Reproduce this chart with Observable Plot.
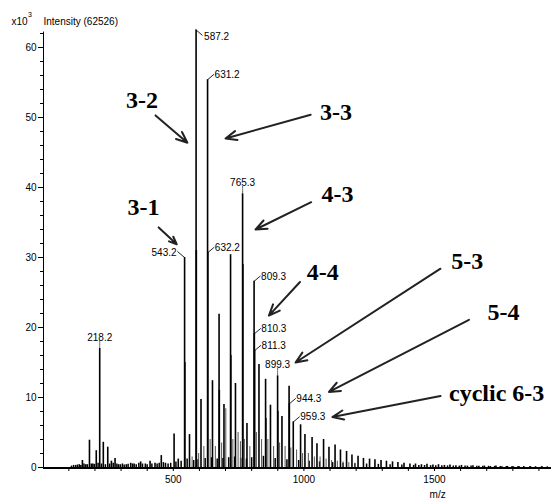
<!DOCTYPE html>
<html>
<head>
<meta charset="utf-8">
<script src="https://cdn.jsdelivr.net/npm/d3@7"></script>
<script src="https://cdn.jsdelivr.net/npm/@observablehq/plot@0.6"></script>
<style>
  html, body { margin: 0; padding: 0; background: white; }
  #chart svg { display: block; }
</style>
</head>
<body>
<div id="chart"></div>
<script>
// ---- Data (m/z, intensity in x10^3 counts) ----
const lowMassMz  = [126, 140, 152, 165, 179, 192, 205, 218.2, 232, 249, 263, 277, 290, 305, 320, 337, 350, 375, 393, 411, 430, 454, 470, 503, 519];
const lowMassInt = [0.3, 0.4, 1.0, 0.4, 3.9, 0.5, 2.4, 17.0, 3.6, 2.9, 0.9, 1.3, 0.4, 0.5, 0.4, 0.6, 0.5, 0.8, 0.5, 0.9, 0.6, 1.7, 0.6, 4.8, 1.2];

const seriesAMz  = [543.2, 587.2, 631.2, 675.2, 719.2, 765.3, 809.3, 853.3, 899.3, 943.3, 987.3, 1031.3, 1075.3, 1119.3, 1163.3, 1207.3, 1251.3, 1295.3, 1339.3, 1383.3, 1427.3, 1471.3, 1515.3, 1559.3, 1603.3, 1647.3, 1691.3, 1735.3, 1779.3, 1823.3, 1867.3, 1911.3];
const seriesAInt = [30.0, 62.5, 55.4, 21.9, 30.4, 39.1, 26.6, 12.6, 13.1, 11.6, 6.1, 4.3, 4.0, 3.2, 2.3, 1.6, 1.2, 1.0, 0.8, 0.6, 0.5, 0.45, 0.4, 0.35, 0.3, 0.25, 0.2, 0.2, 0.15, 0.15, 0.12, 0.1];

const seriesBMz  = [562, 606, 650, 694, 738, 782, 828, 872, 916, 959.3, 1004, 1050, 1096, 1140, 1184, 1228, 1272, 1316, 1360, 1406, 1450, 1494, 1538, 1582, 1626, 1670, 1714, 1758, 1802];
const seriesBInt = [4.7, 9.7, 12.4, 9.0, 12.0, 6.3, 14.7, 8.9, 7.3, 6.5, 4.7, 3.4, 2.9, 2.5, 1.8, 1.3, 1.1, 0.9, 0.7, 0.5, 0.4, 0.35, 0.3, 0.25, 0.2, 0.18, 0.15, 0.12, 0.1];

const isotopeMz  = [544.2, 588.2, 632.2, 676.2, 720.2, 766.3, 810.3, 811.3, 854.3, 900.3, 944.3];
const isotopeInt = [15.0, 31.0, 30.7, 11.0, 16.0, 29.0, 19.1, 16.7, 7.0, 8.0, 9.1];

const minorMz  = [572, 597, 617, 641, 661, 685, 701, 728, 748, 757, 772, 793, 818, 838, 862, 884, 907, 928, 950, 972, 995, 1017, 1040, 1062, 1085, 1106, 1128, 1150, 1172, 1195];
const minorInt = [1.5, 2.0, 3.0, 4.0, 3.0, 3.5, 8.4, 4.0, 5.0, 3.7, 4.0, 3.0, 5.0, 4.0, 4.0, 3.0, 3.5, 3.0, 2.8, 2.5, 2.0, 2.0, 1.5, 1.5, 1.2, 1.0, 0.9, 0.8, 0.7, 0.6];

const noiseMz  = [110, 118, 133, 146, 158, 171, 186, 198, 212, 225, 240, 256, 270, 284, 297, 312, 327, 344, 358, 368, 382, 400, 418, 438, 446, 462, 480, 490, 510, 530, 553, 578, 595, 622, 646, 668, 690, 712, 735, 758, 780, 800, 845, 890, 935, 980, 1020, 1060, 1110, 1150, 1195, 1240, 1285, 1330, 1375, 1420, 1440, 1462, 1485, 1505, 1528, 1550, 1572, 1595, 1617, 1640, 1662, 1685, 1707, 1730, 1752, 1775, 1797, 1820, 1842, 1865, 1887, 1910, 1932];
const noiseInt = [0.2, 0.3, 0.35, 0.3, 0.5, 0.4, 0.5, 0.45, 0.6, 0.5, 0.4, 0.5, 0.6, 0.5, 0.4, 0.35, 0.45, 0.5, 0.4, 0.6, 0.5, 0.4, 0.5, 0.5, 0.6, 0.7, 0.5, 0.6, 0.8, 0.9, 1.2, 1.0, 1.1, 1.3, 1.4, 1.2, 1.3, 1.4, 1.5, 1.3, 1.2, 1.4, 1.6, 1.3, 1.1, 1.0, 0.9, 0.8, 0.7, 0.6, 0.55, 0.5, 0.45, 0.4, 0.35, 0.3, 0.3, 0.28, 0.27, 0.25, 0.25, 0.23, 0.22, 0.2, 0.2, 0.2, 0.18, 0.18, 0.17, 0.16, 0.15, 0.15, 0.14, 0.13, 0.13, 0.12, 0.12, 0.11, 0.1];

// peak labels
const labelAboveMz = [218.2, 765.3, 899.3];
const labelAboveInt = [17.0, 39.1, 13.1];
const labelRightMz = [631.2, 632.2, 809.3, 810.3, 811.3, 944.3, 959.3];
const labelRightInt = [55.4, 30.7, 26.6, 19.1, 16.7, 9.1, 6.5];
const labelDownRightMz = [587.2];
const labelDownRightInt = [62.5];
const labelLeftMz = [543.2];
const labelLeftInt = [30.0];

// annotation labels and arrows (data coordinates)
const annText = ["3-2", "3-3", "3-1", "4-3", "4-4", "5-3", "5-4", "cyclic 6-3"];
const annMz   = [380, 1123, 386, 1129, 1072, 1625, 1764, 1738];
const annInt  = [52.5, 50.8, 37.1, 39.0, 27.9, 29.5, 22.1, 10.6];
const arrowFromMz  = [432, 1026, 444, 1028, 985, 1523, 1632, 1523];
const arrowFromInt = [50.3, 50.4, 34.3, 37.9, 26.5, 28.4, 21.1, 10.2];
const arrowToMz    = [554, 700, 513, 815, 866, 968, 1096, 1109];
const arrowToInt   = [46.4, 47.0, 31.9, 34.0, 21.7, 15.0, 10.8, 7.2];

const xMajorTicks = [500, 1000, 1500];
const yMajorTicks = [0, 10, 20, 30, 40, 50, 60];

// ---- Build tables ----
const toRows = (mz, v) => mz.map((m, i) => ({mz: m, int: v[i]}));
const mainPeaks = [...toRows(lowMassMz, lowMassInt), ...toRows(seriesAMz, seriesAInt), ...toRows(seriesBMz, seriesBInt), ...toRows(isotopeMz, isotopeInt)];
const minorPeaks = toRows(minorMz, minorInt);
const noisePeaks = toRows(noiseMz, noiseInt);
const labelsAbove = toRows(labelAboveMz, labelAboveInt);
const labelsRight = toRows(labelRightMz, labelRightInt);
const labelsDownRight = toRows(labelDownRightMz, labelDownRightInt);
const labelsLeft = toRows(labelLeftMz, labelLeftInt);
const annotations = annText.map((t, i) => ({text: t, mz: annMz[i], int: annInt[i]}));
const arrows = arrowFromMz.map((m, i) => ({x1: m, y1: arrowFromInt[i], x2: arrowToMz[i], y2: arrowToInt[i]}));

const lineShape = {draw(context, l) { context.moveTo(0, 0); context.lineTo(0, -l); }};
const fmt = d => d.toFixed(1);

const chart = Plot.plot({
  width: 551,
  height: 503,
  marginLeft: 43,
  marginRight: 0,
  marginTop: 29.5,
  marginBottom: 36,
  x: {domain: [3, 1948]},
  y: {domain: [0, 62.5]},
  style: {fontFamily: "'Liberation Sans', Arial, sans-serif", fontSize: "10px", background: "white", color: "black"},
  marks: [
    // axes
    Plot.axisY({ticks: d3.range(0, 63, 2), tickSize: 3, tickFormat: () => "", label: null}),
    Plot.axisY({ticks: yMajorTicks, tickSize: 5, tickPadding: 2, label: null, fontSize: 10}),
    Plot.axisX({ticks: d3.range(100, 1948, 100), tickSize: 4, tickPadding: 4, label: null,
      tickFormat: d => xMajorTicks.includes(d) ? String(d) : ""}),
    Plot.ruleX([3], {y1: 0, y2: 62.2, stroke: "black", strokeWidth: 1}),
    // peaks
    Plot.ruleX(noisePeaks, {x: "mz", y1: 0, y2: "int", stroke: "black", strokeWidth: 1.5}),
    Plot.ruleX(minorPeaks, {x: "mz", y1: 0, y2: "int", stroke: "#555", strokeWidth: 1}),
    Plot.ruleX(mainPeaks, {x: "mz", y1: 0, y2: "int", stroke: "black", strokeWidth: 1.6}),
    Plot.ruleY([0], {stroke: "black", strokeWidth: 2.2, dy: 0.5}),
    // peak labels
    Plot.vector(labelsAbove, {x: "mz", y: "int", length: 7, rotate: 0, anchor: "start", shape: lineShape, stroke: "#666", strokeWidth: 1, strokeDasharray: "1.5,1", dy: -1}),
    Plot.text(labelsAbove, {x: "mz", y: "int", text: d => fmt(d.mz), dy: -11, fontSize: 10}),
    Plot.vector(labelsRight, {x: "mz", y: "int", length: 8, rotate: 50, anchor: "start", shape: lineShape, stroke: "black", strokeWidth: 0.8}),
    Plot.text(labelsRight, {x: "mz", y: "int", text: d => fmt(d.mz), dx: 7, dy: -5, textAnchor: "start", fontSize: 10}),
    Plot.vector(labelsDownRight, {x: "mz", y: "int", length: 8, rotate: 130, anchor: "start", shape: lineShape, stroke: "black", strokeWidth: 0.8}),
    Plot.text(labelsDownRight, {x: "mz", y: "int", text: d => fmt(d.mz), dx: 8, dy: 7, textAnchor: "start", fontSize: 10}),
    Plot.vector(labelsLeft, {x: "mz", y: "int", length: 9, rotate: -50, anchor: "start", shape: lineShape, stroke: "black", strokeWidth: 0.8}),
    Plot.text(labelsLeft, {x: "mz", y: "int", text: d => fmt(d.mz), dx: -8, dy: -5, textAnchor: "end", fontSize: 10}),
    // annotations
    Plot.arrow(arrows, {x1: "x1", y1: "y1", x2: "x2", y2: "y2", stroke: "#222", strokeWidth: 2, headLength: 9, headAngle: 45}),
    Plot.text(annotations, {x: "mz", y: "int", text: "text", fontFamily: "'Liberation Serif', 'Times New Roman', serif", fontWeight: "bold", fontSize: 24}),
    // header + axis title
    Plot.text(["Intensity (62526)"], {frameAnchor: "top-left", dx: 0, dy: -12.5, textAnchor: "start", fontSize: 10}),
    Plot.text(["x10"], {frameAnchor: "top-left", dx: -16, dy: -12, textAnchor: "end", fontSize: 10}),
    Plot.text(["3"], {frameAnchor: "top-left", dx: -15.5, dy: -17.5, textAnchor: "start", fontSize: 7}),
    Plot.text(["m/z"], {frameAnchor: "bottom", x: 1512, dy: 30, fontSize: 10})
  ]
});
document.getElementById("chart").appendChild(chart);
</script>
</body>
</html>
